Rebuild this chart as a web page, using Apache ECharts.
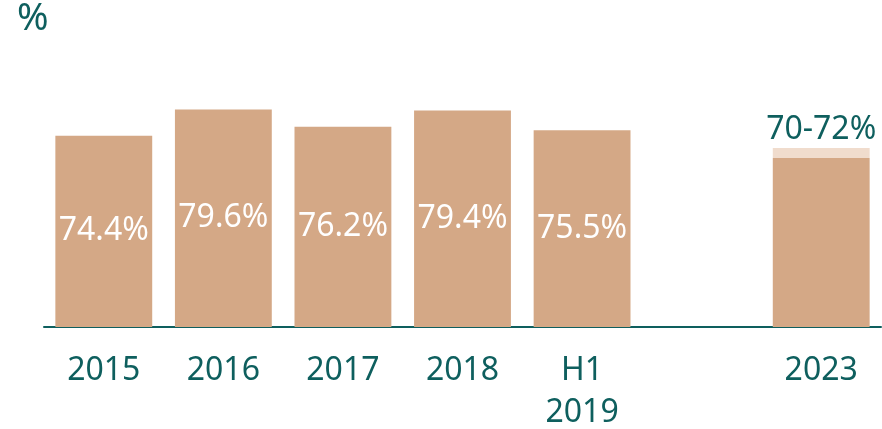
<!DOCTYPE html>
<html>
<head>
<meta charset="utf-8">
<script src="https://cdn.jsdelivr.net/npm/echarts@6/dist/echarts.min.js"></script>
<style>
  html, body { margin: 0; padding: 0; background: #fff; }
  #chart { width: 882px; height: 429px; }
</style>
</head>
<body>
<div id="chart"></div>
<script>
// data
const categories = ['2015', '2016', '2017', '2018', 'H1\n2019', '', '2023']
const actual = [74.4, 79.6, 76.2, 79.4, 75.5, '-', 70]
const targetRange = ['-', '-', '-', '-', '-', '-', 2]   // 70 -> 72
const targetLabel = '70-72%'

const teal = '#0e5f5e'
const tan = '#d4a886'
const lightTan = '#f0dccd'
const font = 'Noto Sans'

const chart = echarts.init(document.getElementById('chart'))

chart.setOption({
  animation: false,
  textStyle: { fontFamily: font },
  graphic: [{
    type: 'text',
    left: 17,
    top: 0,
    style: { text: '%', fontSize: 38, fontFamily: font, fill: teal }
  }],
  grid: {
    left: 44,
    right: 1,
    top: 100,
    bottom: 102,
    outerBoundsMode: 'none'
  },
  xAxis: {
    type: 'category',
    data: categories,
    axisLine: { lineStyle: { color: teal, width: 2 } },
    axisTick: { show: false },
    axisLabel: {
      color: teal,
      fontSize: 32,
      lineHeight: 42,
      margin: 23,
      interval: 0
    }
  },
  yAxis: {
    type: 'value',
    min: 36.7,
    max: 81.45,
    show: false,
    splitLine: { show: false }
  },
  series: [{
    name: 'actual',
    type: 'bar',
    stack: 'a',
    barWidth: '81%',
    data: actual,
    itemStyle: { color: tan },
    label: {
      show: true,
      position: 'inside',
      color: '#fff',
      fontSize: 32,
      formatter: p => (p.dataIndex === 6 ? '' : p.value.toFixed(1) + '%')
    }
  }, {
    name: 'target',
    type: 'bar',
    stack: 'a',
    barWidth: '81%',
    data: targetRange,
    itemStyle: { color: lightTan },
    label: {
      show: true,
      position: 'top',
      distance: 2,
      color: teal,
      fontSize: 32,
      formatter: () => targetLabel
    }
  }]
})
</script>
</body>
</html>
